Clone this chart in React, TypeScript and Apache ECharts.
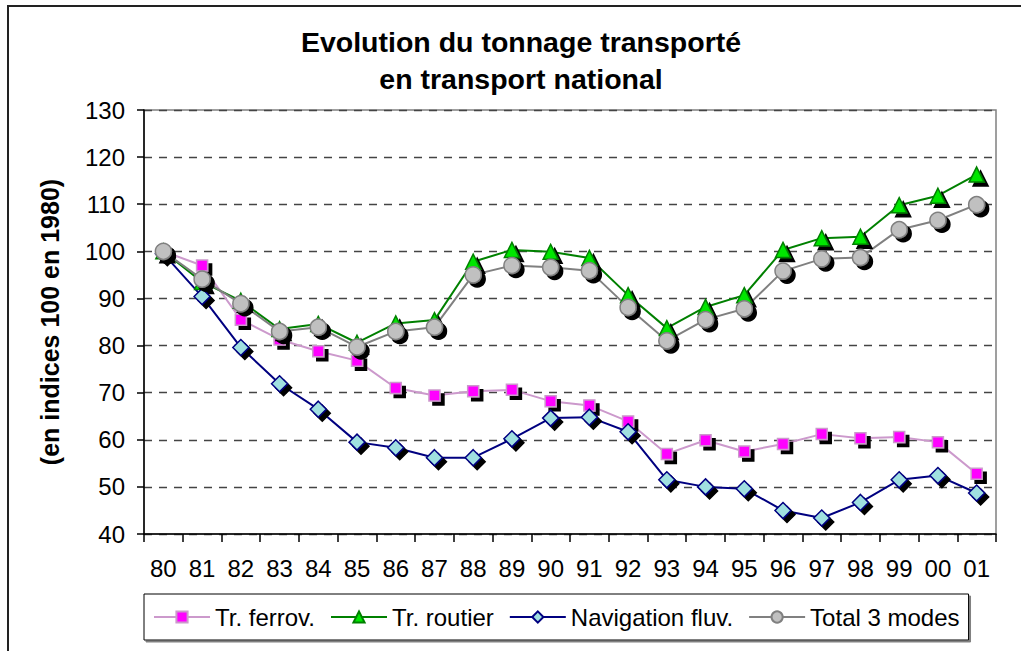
import React, { useEffect, useRef } from "react";
import * as echarts from "echarts";

const years = ["80","81","82","83","84","85","86","87","88","89","90","91","92","93","94","95","96","97","98","99","00","01"];
const ferrov = [100, 97, 85.5, 81.3, 78.8, 76.8, 71, 69.4, 70.3, 70.6, 68.2, 67.3, 63.9, 57, 59.9, 57.5, 59.1, 61.2, 60.3, 60.6, 59.5, 52.8];
const routier = [100, 93.5, 89.5, 83.5, 84.6, 80.6, 84.7, 85.4, 97.8, 100.3, 99.9, 98.6, 90.7, 83.7, 88.2, 90.7, 100.3, 102.8, 103.1, 109.8, 111.8, 116.3];
const navigation = [99.5, 90.4, 79.6, 71.9, 66.5, 59.5, 58.3, 56.2, 56.2, 60.2, 64.6, 64.8, 61.7, 51.5, 50.0, 49.6, 45.0, 43.4, 46.7, 51.5, 52.4, 48.7];
const total = [100, 94.1, 88.9, 83.0, 83.9, 79.7, 83.0, 83.9, 95.0, 97.0, 96.6, 95.9, 88.1, 81.0, 85.5, 87.8, 95.8, 98.4, 98.7, 104.6, 106.6, 109.9];

const FONT = "'Liberation Sans', Arial, sans-serif";

const shadow = { shadowColor: "#000", shadowOffsetX: 4, shadowOffsetY: 4, shadowBlur: 0 };

export default function App() {
  const ref = useRef<HTMLDivElement>(null);
  useEffect(() => {
    if (!ref.current) return;
    const chart = echarts.init(ref.current, undefined, { renderer: "svg" });
    const mk = (name: string, data: number[], line: string, fill: string, symbol: string, size: number, lw: number) => ({
      name,
      type: "line",
      data,
      symbol,
      symbolSize: size,
      lineStyle: { color: line, width: lw },
      itemStyle: { color: fill, borderColor: line, borderWidth: 1.5, ...shadow },
      emphasis: { disabled: true },
    });
    chart.setOption({
      animation: false,
      backgroundColor: "#fff",
      textStyle: { fontFamily: FONT },
      title: {
        text: "Evolution du tonnage transporté\nen transport national",
        left: 516,
        textAlign: "center",
        top: 18,
        textStyle: { fontFamily: FONT, fontSize: 28.5, fontWeight: "bold", color: "#000", lineHeight: 37 },
      },
      graphic: [
        {
          type: "rect",
          shape: { x: 8, y: 6, width: 1100, height: 700 },
          style: { fill: "none", stroke: "#222", lineWidth: 2 },
          silent: true,
        },
      ],
      legend: {
        left: 144,
        top: 594,
        padding: [11, 9, 11, 9],
        itemWidth: 56,
        itemHeight: 14,
        itemGap: 15,
        backgroundColor: "#fff",
        borderColor: "#000",
        borderWidth: 1,
        shadowColor: "#808080",
        shadowOffsetX: 2,
        shadowOffsetY: 2,
        shadowBlur: 0,
        textStyle: { fontFamily: FONT, fontSize: 24, color: "#000" },
        itemStyle: { shadowColor: "rgba(0,0,0,0)", shadowOffsetX: 0, shadowOffsetY: 0 },
        data: ["Tr. ferrov.", "Tr. routier", "Navigation fluv.", "Total 3 modes"],
      },
      grid: {
        left: 144,
        top: 110,
        right: 25,
        bottom: 117,
        show: true,
        borderColor: "#808080",
        borderWidth: 1.5,
        backgroundColor: "#fff",
      },
      xAxis: {
        type: "category",
        data: years,
        boundaryGap: true,
        axisLine: { lineStyle: { color: "#000", width: 1.5 } },
        axisTick: { show: true, length: 8, lineStyle: { color: "#000", width: 1.5 } },
        axisLabel: { fontFamily: FONT, fontSize: 24, color: "#000", margin: 22, interval: 0 },
      },
      yAxis: {
        type: "value",
        min: 40,
        max: 130,
        interval: 10,
        name: "(en indices 100 en 1980)",
        nameLocation: "middle",
        nameRotate: 90,
        nameGap: 82,
        nameTextStyle: { fontFamily: FONT, fontSize: 25, fontWeight: "bold", color: "#000" },
        axisLine: { show: true, lineStyle: { color: "#000", width: 1.5 } },
        axisTick: { show: true, length: 7, lineStyle: { color: "#000", width: 1.5 } },
        axisLabel: { fontFamily: FONT, fontSize: 24, color: "#000", margin: 19 },
        splitLine: { show: true, lineStyle: { color: "#444", type: [8, 7], width: 1.3 } },
      },
      series: [
        mk("Tr. ferrov.", ferrov, "#CC99CC", "#FF00FF", "rect", 11, 2),
        mk("Tr. routier", routier, "#008000", "#00E600", "triangle", 15, 2),
        mk("Navigation fluv.", navigation, "#000080", "#A0E0E0", "diamond", 16, 2),
        mk("Total 3 modes", total, "#808080", "#C0C0C0", "circle", 16, 2),
      ],
    });
    return () => chart.dispose();
  }, []);
  return <div ref={ref} style={{ position: "fixed", left: 0, top: 0, width: 1021, height: 651 }} />;
}
